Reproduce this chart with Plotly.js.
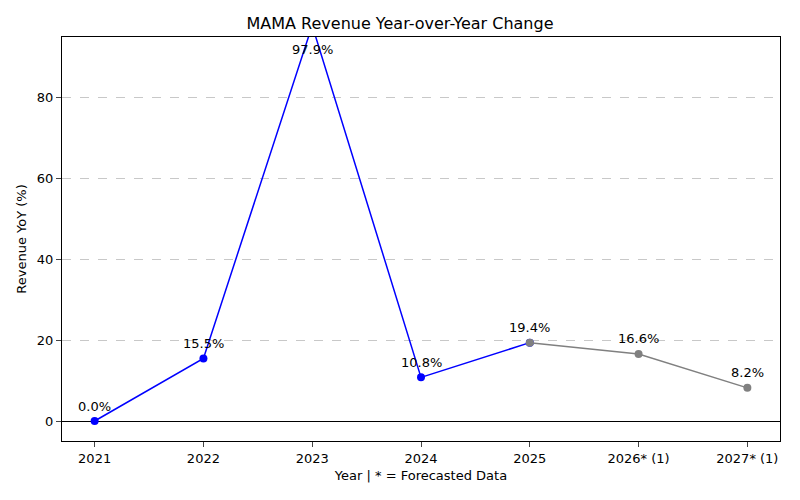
<!DOCTYPE html>
<html>
<head>
<script src="https://cdn.plot.ly/plotly-3.0.1.min.js"></script>
</head>
<body style="margin:0">
<div id="chart" style="width:800px;height:500px"></div>
<script>
var years = ['2021', '2022', '2023', '2024', '2025', '2026* (1)', '2027* (1)'];
var yoy = [0.0, 15.5, 97.9, 10.8, 19.4, 16.6, 8.2];
var labels = ['0.0%', '15.5%', '97.9%', '10.8%', '19.4%', '16.6%', '8.2%'];
var actualCount = 5;

var actual = {
  x: years.slice(0, actualCount), y: yoy.slice(0, actualCount),
  type: 'scatter', mode: 'lines+markers',
  line: {color: 'blue', width: 1.5}, marker: {color: 'blue', size: 8}
};
var forecast = {
  x: years.slice(actualCount - 1), y: yoy.slice(actualCount - 1),
  type: 'scatter', mode: 'lines+markers',
  line: {color: 'gray', width: 1.5}, marker: {color: 'gray', size: 8}
};

// category axis: annotations placed by category index
var annotations = years.map(function (yr, i) {
  var top = yoy[i] > 90;
  return {
    x: i, y: top ? 92 : yoy[i], text: labels[i], showarrow: false,
    yshift: top ? 0 : 15, font: {size: 13, color: 'black'}
  };
});

var layout = {
  title: {text: 'MAMA Revenue Year-over-Year Change', font: {size: 16, color: 'black'},
    y: 0.954, yanchor: 'middle'},
  font: {family: 'DejaVu Sans', size: 12, color: 'black'},
  showlegend: false,
  margin: {l: 62, r: 20, t: 37, b: 59},
  paper_bgcolor: 'white', plot_bgcolor: 'white',
  xaxis: {
    type: 'category', range: [-0.3, 6.3],
    title: {text: 'Year | * = Forecasted Data', standoff: 6, font: {size: 13}},
    showline: true, mirror: true, linecolor: 'black', ticks: 'outside',
    tickfont: {size: 13},
    showgrid: false, zeroline: false
  },
  yaxis: {
    range: [-4.95, 95.05], dtick: 20,
    title: {text: 'Revenue YoY (%)', font: {size: 13}},
    showline: true, mirror: true, linecolor: 'black', ticks: 'outside',
    tickfont: {size: 13},
    gridcolor: '#c8c8c8', griddash: 'dash',
    zeroline: true, zerolinecolor: 'black', zerolinewidth: 1
  },
  annotations: annotations
};

Plotly.newPlot('chart', [actual, forecast], layout, {displayModeBar: false});
</script>
</body>
</html>
